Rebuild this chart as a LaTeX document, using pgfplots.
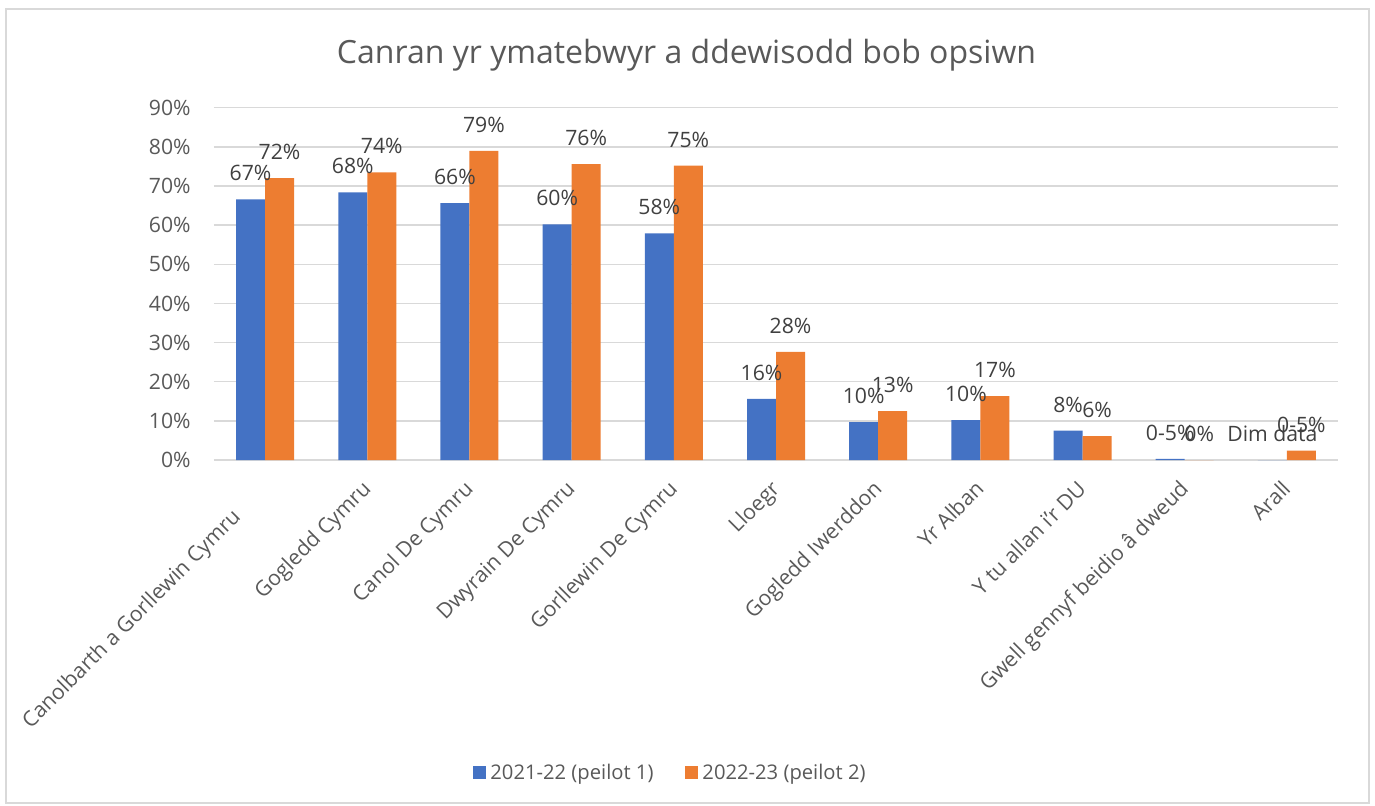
\documentclass[border=0pt]{standalone}
\usepackage{fontspec}
\setmainfont{Open Sans}
\usepackage{pgfplots}
\pgfplotsset{compat=1.18}
\definecolor{xlblue}{HTML}{4472C4}
\definecolor{xlorange}{HTML}{ED7D31}
\definecolor{gridgray}{HTML}{D9D9D9}
\definecolor{txtgray}{HTML}{595959}
\definecolor{lblgray}{HTML}{404040}
\newcommand{\lblfont}{\fontsize{10.6}{13}\selectfont}
\begin{document}
\begin{tikzpicture}
\useasboundingbox (0,0) rectangle (687.5pt,402.5pt);
\draw[gridgray, line width=0.75pt] (3pt,1pt) rectangle (684.5pt,398pt);
\node[text=txtgray, font=\fontsize{16}{20}\selectfont] at (343.25pt,375pt)
  {Canran yr ymatebwyr a ddewisodd bob opsiwn};
\begin{axis}[
    at={(107pt,172.5pt)}, anchor=south west,
    scale only axis,
    width=562pt, height=176.15pt,
    ybar=0pt, bar width=14.5pt,
    xmin=-0.5, xmax=10.5,
    ymin=0, ymax=90,
    xtick={0,...,10},
    ytick={0,10,...,90},
    xticklabels={{Canolbarth a Gorllewin Cymru\hspace*{20pt}}, Gogledd Cymru,
      Canol De Cymru, Dwyrain De Cymru, Gorllewin De Cymru, Lloegr,
      Gogledd Iwerddon, Yr Alban, Y tu allan i'r DU,
      Gwell gennyf beidio â dweud, Arall},
    yticklabel={\pgfmathprintnumber{\tick}\%},
    /pgf/number format/assume math mode=true,
    tick label style={font=\lblfont, text=txtgray},
    xticklabel style={xshift=-3.3pt, yshift=-9.2pt, rotate=45, anchor=north east, inner sep=0pt},
    yticklabel style={inner sep=0pt, xshift=-11.5pt},
    axis line style={draw=none},
    major tick length=0pt,
    ymajorgrids,
    grid style={gridgray, line width=0.75pt},
    point meta=explicit symbolic,
    nodes near coords,
    nodes near coords style={anchor=base, yshift=9.25pt, inner sep=0pt,
      font=\lblfont, text=lblgray},
    legend columns=2,
    legend style={at={(axis description cs:0.407,-0.888)}, anchor=center,
      draw=none, font=\fontsize{10.1}{12}\selectfont, text=txtgray,
      /tikz/every even column/.append style={column sep=14pt}},
    legend image code/.code={\fill[#1] (0pt,-3.25pt) rectangle (6.5pt,3.25pt);},
]
\addplot[fill=xlblue, draw=none] coordinates {
    (0,66.6) [67\%]
    (1,68.4) [68\%]
    (2,65.6) [66\%]
    (3,60.2) [60\%]
    (4,57.9) [58\%]
    (5,15.6) [16\%]
    (6,9.7) [10\%]
    (7,10.2) [10\%]
    (8,7.5) [8\%]
    (9,0.3) [0-5\%]
    (10,0) [Dim data]
};
\addplot[fill=xlorange, draw=none] coordinates {
    (0,72.0) [72\%]
    (1,73.5) [74\%]
    (2,79.0) [79\%]
    (3,75.6) [76\%]
    (4,75.2) [75\%]
    (5,27.6) [28\%]
    (6,12.5) [13\%]
    (7,16.3) [17\%]
    (8,6.1) [6\%]
    (9,0) [0\%]
    (10,2.4) [0-5\%]
};
\legend{2021-22 (peilot 1), 2022-23 (peilot 2)}
\end{axis}
\end{tikzpicture}
\end{document}
